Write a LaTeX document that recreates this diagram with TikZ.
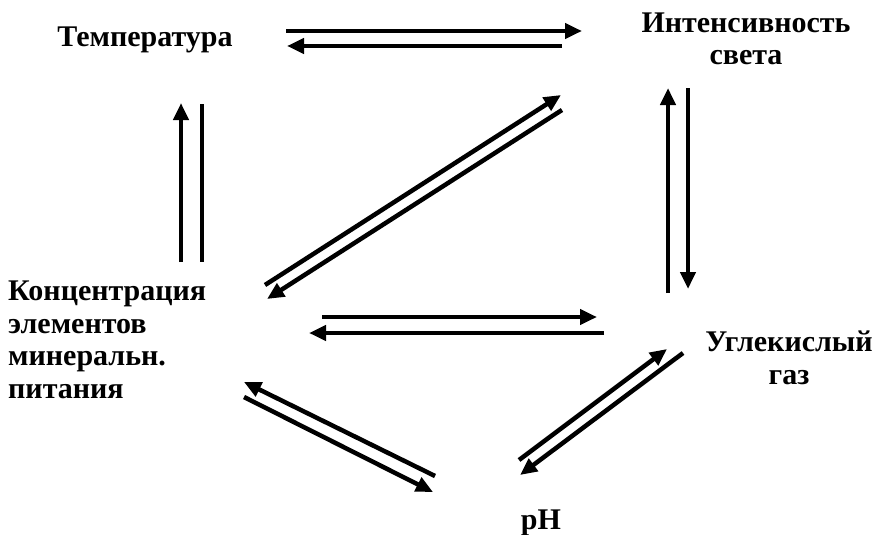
\documentclass[tikz,border=0pt]{standalone}
\usepackage{fontspec}
\setmainfont{Liberation Serif}
\usetikzlibrary{arrows.meta}
\tikzset{
  lbl/.style={inner sep=0pt,font=\fontsize{30}{32.5}\selectfont\bfseries,align=center},
  arr/.style={-{Triangle[length=17pt,width=15pt]},line width=4.5pt},
  ln/.style={line width=4.5pt},
}

\begin{document}
\begin{tikzpicture}[x=1pt,y=-1pt]
  \useasboundingbox (0,0) rectangle (875,535);
  % factors
  \node[lbl,anchor=base] (temp) at (145,47) {Температура};
  \node[lbl,anchor=base] (light) at (746,65) {Интенсивность\\света};
  \node[lbl,anchor=base west,align=left] (conc) at (8,398) {Концентрация\\элементов\\минеральн.\\питания};
  \node[lbl,anchor=base] (co2) at (789,384) {Углекислый\\газ};
  \node[lbl,anchor=base] (ph) at (541,529) {pH};
  % arrow ends
  \foreach \n/\x/\y in {tl1/286/31, tl2/582/31, lt1/562/46, lt2/287/46,
      tc1/181/262, tc2/181/103, ct1/202/104, ct2/202/262,
      cl1/265/285, cl2/561/95, lc1/562/110, lc2/267/299,
      cg1/322/317, cg2/597/317, gc1/604/333, gc2/309/333,
      pc1/435/476, pc2/244/382, cp1/244/397, cp2/433/492,
      pg1/519/460, pg2/667/349, gp1/683/353, gp2/520/475,
      gl1/668/293, gl2/668/88, lg1/688/88, lg2/688/289}
    \coordinate (\n) at (\x,\y);
  \draw[arr] (tl1) -- (tl2); \draw[arr] (lt1) -- (lt2);
  \draw[arr] (tc1) -- (tc2); \draw[ln] (ct1) -- (ct2);
  \draw[arr] (cl1) -- (cl2); \draw[arr] (lc1) -- (lc2);
  \draw[arr] (cg1) -- (cg2); \draw[arr] (gc1) -- (gc2);
  \draw[arr] (pc1) -- (pc2); \draw[arr] (cp1) -- (cp2);
  \draw[arr] (pg1) -- (pg2); \draw[arr] (gp1) -- (gp2);
  \draw[arr] (gl1) -- (gl2); \draw[arr] (lg1) -- (lg2);
\end{tikzpicture}
\end{document}
